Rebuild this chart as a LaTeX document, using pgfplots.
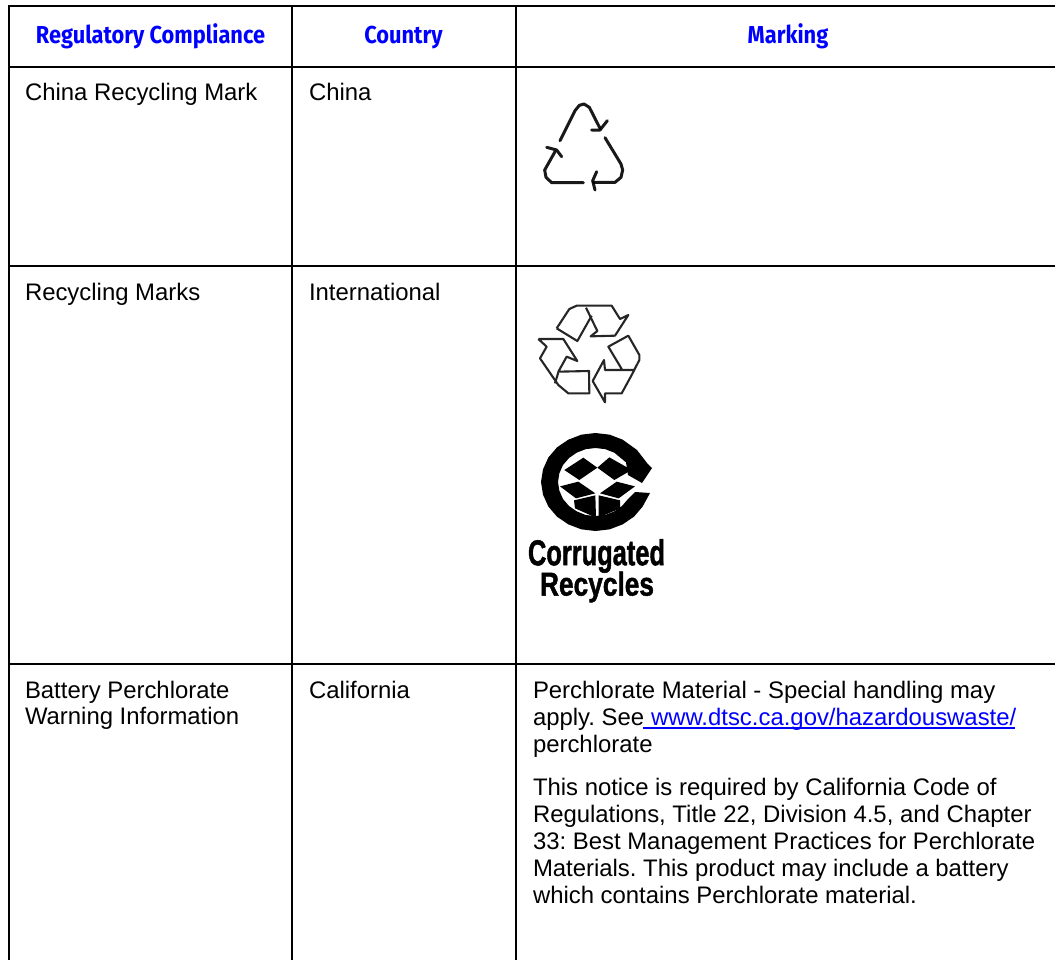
\documentclass[border=0pt]{standalone}
\usepackage{pgfplots}
\pgfplotsset{compat=1.18}
\usepackage{fontspec}
\setmainfont{Liberation Sans}
\newfontfamily\hdr{Fira Sans}
\newfontfamily\logo[BoldFeatures={FakeBold=1.5}]{Liberation Sans}
\definecolor{linkblue}{RGB}{0,0,255}
\frenchspacing
\pgfplotsset{
 ic1/.style={x filter/.expression={x/3+520}, y filter/.expression={y/3+90}},
 ic2/.style={x filter/.expression={x/3+520}, y filter/.expression={y/3+295}},
 ic3/.style={x filter/.expression={x/3+520}, y filter/.expression={y/3+425}},
 rule/.style={black, line width=2bp, no markers},
 s1/.style={ic1, black, line width=3bp, no markers, line join=round, line cap=round, opacity=0.9},
 s2/.style={ic2, black!85, line width=2.1bp, no markers, line join=round},
 f3/.style={ic3, fill=black, draw=none, no markers},
}
\tikzset{
 tx/.style={anchor=base west, inner sep=0pt, outer sep=0pt, text=black, font=\fontsize{23.9bp}{27bp}\selectfont},
 hd/.style={anchor=base, inner sep=0pt, outer sep=0pt, text=linkblue, font=\hdr\bfseries\fontsize{24.5bp}{27bp}\selectfont},
}
\begin{document}
\begin{tikzpicture}
\path[use as bounding box] (0,0) rectangle (1055bp,960bp);
\begin{axis}[
  at={(0,0)}, anchor=south west,
  scale only axis, width=1055bp, height=960bp,
  xmin=0, xmax=1055, ymin=0, ymax=960, y dir=reverse,
  axis lines=none, clip=true,
]
% table rules
\addplot[rule] coordinates {(8,6) (1055,6)};
\addplot[rule] coordinates {(8,67) (1055,67)};
\addplot[rule] coordinates {(8,266) (1055,266)};
\addplot[rule] coordinates {(8,664) (1055,664)};
\addplot[rule] coordinates {(9,5) (9,960)};
\addplot[rule] coordinates {(292,5) (292,960)};
\addplot[rule] coordinates {(516,5) (516,960)};
% China recycling mark
\addplot[s1] coordinates {(120,152) (165,62) (178,46) (192,42) (208,52) (240,115)};
\addplot[s1] coordinates {(215,120) (240,120) (262,92)};
\addplot[s1] coordinates {(255,143) (303,222) (308,240) (303,262) (285,277) (220,277)};
\addplot[s1] coordinates {(230,245) (218,272) (225,300)};
\addplot[s1] coordinates {(190,278) (95,278) (78,262) (74,240) (105,185)};
\addplot[s1] coordinates {(80,172) (110,180) (125,200)};
% three arrow recycling mark
\addplot[s2] coordinates {(110,100) (148,42) (170,32) (275,32) (300,72) (325,60) (285,122) (212,124) (232,108) (198,38)};
\addplot[s2] coordinates {(110,100) (172,138) (215,62)};
\addplot[s2] coordinates {(305,222) (265,155) (325,122) (358,180) (358,195) (335,240) (305,295) (255,295) (255,322) (218,258) (252,195) (255,225) (345,225)};
\addplot[s2] coordinates {(55,132) (130,132) (172,198) (140,185) (115,230) (207,228) (208,295) (145,295) (115,270) (60,190) (80,155) (55,132)};
\addplot[s2] coordinates {(115,232) (105,265)};
% corrugated logo
\addplot[f3] coordinates {(390,204) (368,244.5) (342,275) (308,298) (269,313) (226.5,318) (184,313) (145,298) (111,275) (85,244.5) (69,209) (63,171) (69,133) (85,97.5) (111,67) (145,44) (184,29) (226.5,24) (269,29) (308,44) (351,75) (381,114) (396,129) (366,174) (324,150) (318,112) (283,83) (256,72.5) (226.5,69) (197,72.5) (170,83) (147,99) (129,120) (118,145) (114,171) (118,197) (129,222) (147,243) (170,259) (197,270) (226.5,273) (256,270) (283,259) (306,243) (324,222) (345,201)} --cycle;
\addplot[f3] coordinates {(133,135) (190,98) (232,128) (178,165)} --cycle;
\addplot[f3] coordinates {(232,128) (268,97) (335,135) (283,165)} --cycle;
\addplot[f3] coordinates {(175,170) (226,205) (168,220) (120,184)} --cycle;
\addplot[f3] coordinates {(290,170) (345,184) (296,220) (240,205)} --cycle;
\addplot[f3] coordinates {(162,226) (226,211) (228,278) (165,250)} --cycle;
\addplot[f3] coordinates {(236,211) (300,226) (300,250) (236,278)} --cycle;
% link underline
\addplot[linkblue, line width=1.4bp, no markers] coordinates {(643,728) (1015,728)};
% header
\node[hd] at (axis cs:150.5,43) {\scalebox{0.89}[1]{Regulatory Compliance}};
\node[hd] at (axis cs:403.5,43) {\scalebox{0.89}[1]{Country}};
\node[hd] at (axis cs:788,43) {\scalebox{0.89}[1]{Marking}};
% first column
\node[tx] at (axis cs:25,100) {China Recycling Mark};
\node[tx] at (axis cs:25,300) {Recycling Marks};
\node[tx] at (axis cs:25,698) {Battery Perchlorate};
\node[tx] at (axis cs:25,724.5) {Warning Information};
% second column
\node[tx] at (axis cs:309,100) {China};
\node[tx] at (axis cs:309,300) {International};
\node[tx] at (axis cs:309,698) {California};
% third column
\node[tx] at (axis cs:533,698) {Perchlorate Material - Special handling may};
\node[tx] at (axis cs:533,725.5) {apply. See};
\node[tx,text=linkblue] at (axis cs:651,725.5) {www.dtsc.ca.gov/hazardouswaste/};
\node[tx] at (axis cs:533,752.5) {perchlorate};
\node[tx] at (axis cs:533,795) {This notice is required by California Code of};
\node[tx] at (axis cs:533,822) {Regulations, Title 22, Division 4.5, and Chapter};
\node[tx] at (axis cs:533,849) {33: Best Management Practices for Perchlorate};
\node[tx] at (axis cs:533,876) {Materials. This product may include a battery};
\node[tx] at (axis cs:533,903) {which contains Perchlorate material.};
% logo text
\node[anchor=center, inner sep=0pt] at (axis cs:596.5,556) {\resizebox{137bp}{26bp}{\logo\bfseries Corrugated}};
\node[anchor=center, inner sep=0pt] at (axis cs:597,587) {\resizebox{114bp}{24bp}{\logo\bfseries Recycles}};
\end{axis}
\end{tikzpicture}
\end{document}
